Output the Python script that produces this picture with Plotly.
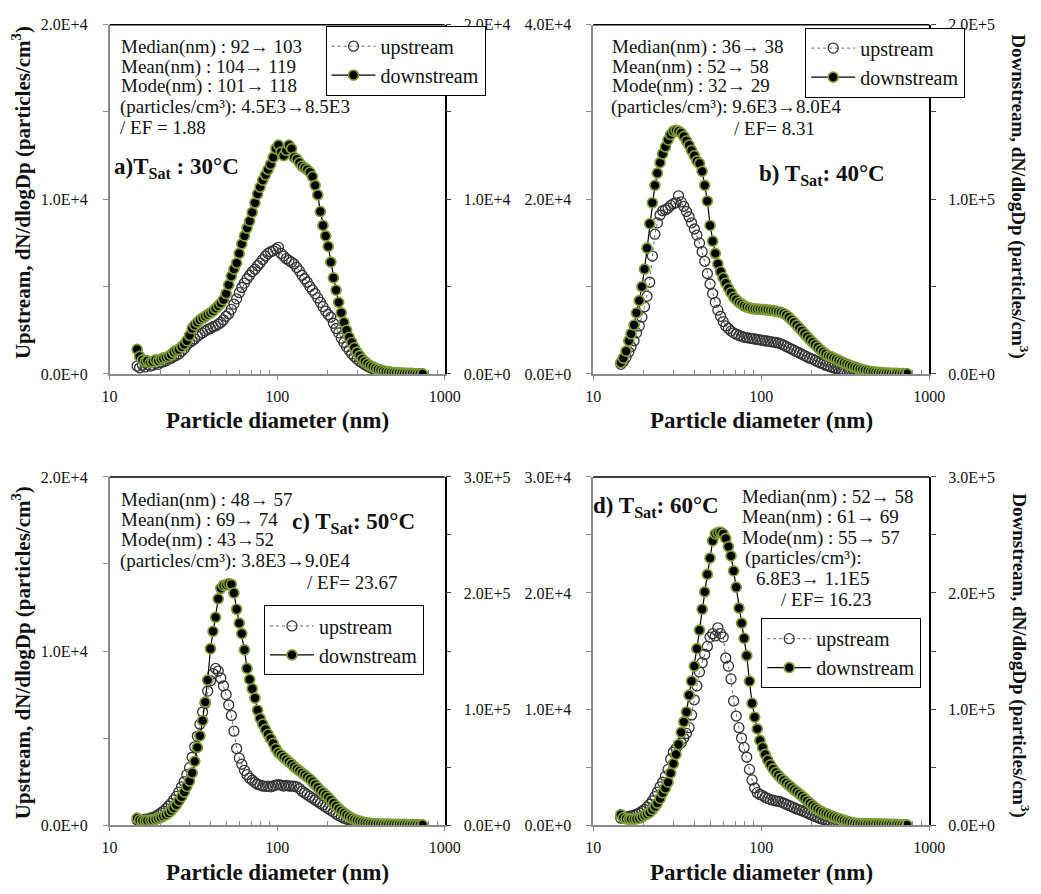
import plotly.graph_objects as go

# ---------------- data ----------------
Dp = [
    14.6, 15.1, 15.7, 16.3, 16.8, 17.5, 18.1, 18.8, 19.5, 20.2,
    20.9, 21.7, 22.5, 23.3, 24.1, 25.0, 25.9, 26.9, 27.9, 28.9,
    30.0, 31.1, 32.2, 33.4, 34.6, 35.9, 37.2, 38.5, 40.0, 41.4,
    42.9, 44.5, 46.1, 47.8, 49.6, 51.4, 53.3, 55.2, 57.3, 59.4,
    61.5, 63.8, 66.1, 68.5, 71.0, 73.7, 76.4, 79.1, 82.0, 85.1,
    88.2, 91.4, 94.7, 98.2, 101.8, 105.5, 109.4, 113.4, 117.6, 121.9,
    126.3, 131.0, 135.8, 140.7, 145.9, 151.2, 156.8, 162.5, 168.5, 174.7,
    181.1, 187.7, 194.6, 201.7, 209.1, 216.7, 224.7, 232.9, 241.4, 250.3,
    259.5, 269.0, 278.8, 289.0, 299.6, 310.6, 322.0, 333.8, 346.0, 358.7,
    371.8, 385.4, 399.5, 414.2, 429.4, 445.1, 461.4, 478.3, 495.8, 514.0,
    532.8, 552.3, 572.5, 593.5, 615.3, 637.8, 661.2, 685.4, 710.5, 736.5,
]

a_up = [
    450, 350, 500, 400, 550, 450, 500, 600, 550, 650,
    700, 750, 850, 900, 1000, 1050, 1150, 1300, 1450, 1650,
    1800, 1900, 2000, 2150, 2250, 2350, 2450, 2550, 2600, 2700,
    2750, 2850, 2950, 3100, 3300, 3450, 3700, 4000, 4300, 4650,
    4950, 5200, 5450, 5650, 5850, 6000, 6200, 6350, 6550, 6750,
    6900, 7000, 7050, 7150, 7250, 6900, 6750, 6600, 6500, 6400,
    6300, 6100, 5900, 5650, 5450, 5250, 5000, 4800, 4600, 4350,
    4100, 3850, 3600, 3400, 3250, 2900, 2600, 2350, 2050, 1800,
    1550, 1350, 1150, 1000, 850, 720, 620, 520, 440, 370,
    300, 250, 200, 160, 130, 100, 80, 60, 50, 40,
    30, 25, 20, 15, 12, 10, 8, 6, 5, 4,
]
a_down = [
    1400, 1000, 800, 700, 750, 650, 700, 800, 750, 850,
    900, 950, 1000, 1100, 1250, 1350, 1400, 1550, 1700, 1900,
    2200, 2600, 2800, 2950, 3100, 3200, 3300, 3400, 3500, 3600,
    3750, 3900, 4050, 4250, 4600, 5100, 5600, 6000, 6350, 6900,
    7450, 7900, 8350, 8750, 9250, 9800, 10300, 10700, 11100, 11400,
    11700, 12000, 12400, 12900, 13100, 12700, 12500, 12800, 13100, 12900,
    12400, 12300, 12100, 11900, 11800, 11700, 11550, 11300, 10800, 10250,
    9300, 8500, 7900, 7300, 6400, 5500, 4800, 4100, 3500, 2950,
    2500, 2100, 1800, 1500, 1250, 1050, 850, 700, 580, 480,
    400, 330, 270, 220, 180, 150, 120, 100, 80, 70,
    60, 50, 40, 35, 30, 25, 20, 15, 10, 5,
]

b_up = [
    1100, 1400, 1900, 2500, 3100, 3800, 4700, 5500, 6500, 7700,
    8900, 10500, 13500, 16000, 17300, 18200, 18700, 18800, 19000, 19300,
    19500, 19600, 20400, 19700, 19200, 18600, 18000, 17300, 16600, 15900,
    15000, 14000, 12900, 11500, 10300, 9200, 8200, 7300, 6600, 6000,
    5500, 5200, 4900, 4700, 4550, 4400, 4300, 4200, 4150, 4100,
    4050, 4000, 3950, 3900, 3850, 3800, 3750, 3700, 3650, 3600,
    3550, 3450, 3300, 3150, 3000, 2850, 2700, 2550, 2400, 2250,
    2100, 1950, 1800, 1700, 1550, 1400, 1250, 1150, 1000, 900,
    800, 700, 620, 550, 480, 420, 370, 320, 280, 240,
    200, 170, 140, 120, 100, 80, 65, 50, 40, 30,
    25, 20, 15, 12, 10, 8, 6, 5, 4, 3,
]
b_down = [
    6500, 9000, 13000, 19000, 23000, 28000, 35000, 42000, 50000, 60000,
    72000, 86000, 98000, 108000, 115000, 121000, 126000, 130000, 134000, 137000,
    139000, 139500, 139000, 138000, 136000, 133500, 131000, 128000, 125000, 122000,
    120500, 116000, 108000, 99000, 85000, 76000, 69000, 63000, 58500, 55000,
    52000, 49000, 46500, 44000, 42500, 41000, 40000, 39000, 38300, 37800,
    37400, 37200, 37100, 37000, 36900, 36800, 36600, 36400, 36200, 36000,
    35600, 35200, 34600, 33700, 32500, 31000, 29500, 27900, 26300, 24700,
    23000, 21300, 19700, 18200, 16700, 15300, 13900, 12600, 11400, 10300,
    9900, 9200, 8500, 7700, 7000, 6300, 5700, 5100, 4500, 3900,
    3400, 2900, 2500, 2100, 1800, 1500, 1250, 1050, 900, 750,
    620, 520, 430, 360, 300, 250, 200, 160, 120, 100,
]

c_up = [
    300, 200, 250, 350, 300, 400, 450, 500, 600, 700,
    800, 950, 1100, 1250, 1450, 1650, 1900, 2200, 2500, 2900,
    3300, 3900, 4500, 5100, 5800, 6500, 7000, 7700, 8300, 8700,
    9000, 8850, 8450, 8000, 7500, 6900, 6300, 5400, 4400, 3850,
    3500, 3150, 2900, 2700, 2580, 2450, 2350, 2300, 2250, 2230,
    2240, 2200, 2250, 2300, 2330, 2300, 2250, 2280, 2250, 2240,
    2240, 2200, 2100, 1950, 1850, 1750, 1650, 1550, 1450, 1350,
    1250, 1150, 1050, 950, 850, 750, 650, 560, 480, 400,
    350, 290, 240, 190, 150, 120, 100, 80, 60, 50,
    40, 30, 25, 20, 15, 12, 10, 8, 6, 5,
    4, 3, 3, 2, 2, 2, 1, 1, 1, 1,
]
c_down = [
    6000, 4500, 4000, 3800, 4000, 4200, 4500, 5000, 5800, 6700,
    7800, 9000, 10500, 12500, 15000, 17500, 21000, 24500, 28500, 33500,
    38000, 45000, 55000, 67000, 77000, 90000, 106000, 125000, 152000, 167000,
    179000, 195000, 204000, 206500, 207000, 208000, 207500, 200000, 186000, 174000,
    165000, 151000, 135000, 125500, 117500, 109500, 99000, 92000, 87000, 82500,
    78300, 74500, 70500, 66000, 62500, 60500, 58500, 56500, 54500, 52500,
    50300, 48500, 46700, 45000, 43300, 41500, 39600, 37400, 35000, 32500,
    30000, 28000, 26000, 24000, 21500, 19000, 16500, 14200, 12300, 10500,
    8800, 7300, 6000, 5000, 4100, 3400, 2800, 2300, 1900, 1600,
    1400, 1200, 1100, 1000, 950, 900, 850, 800, 800, 750,
    700, 650, 600, 550, 500, 450, 400, 350, 300, 250,
]

d_up = [
    600, 650, 700, 750, 800, 850, 950, 1050, 1200, 1350,
    1550, 1800, 2100, 2450, 2850, 3300, 3700, 4200, 4800, 5700,
    6300, 6600, 6900, 7100, 7500, 7900, 8400, 9500, 10800, 12000,
    13200, 14000, 14700, 15400, 16200, 16500, 16300, 17000, 16500, 16200,
    14400, 13700, 12600, 10700, 9400, 8400, 7500, 6700, 5850, 4800,
    3900, 3200, 2800, 2650, 2550, 2400, 2300, 2200, 2150, 2100,
    2050, 2000, 1900, 1800, 1700, 1600, 1500, 1400, 1320, 1240,
    1150, 1050, 950, 850, 750, 650, 570, 500, 430, 370,
    310, 260, 210, 170, 140, 110, 90, 70, 55, 45,
    35, 28, 22, 18, 14, 11, 9, 7, 5, 4,
    3, 3, 2, 2, 2, 1, 1, 1, 1, 1,
]
d_down = [
    9000, 6500, 5500, 5200, 5300, 5300, 5500, 6000, 7000, 8500,
    9500, 11000, 13500, 16000, 19000, 23000, 27900, 32000, 37000, 44800,
    53000, 61000, 69500, 80000, 89000, 97500, 112000, 124000, 137000, 152000,
    168000, 186000, 201000, 216000, 230000, 245000, 251000, 252000, 252500, 251000,
    247000, 240000, 232000, 219000, 205000, 187000, 174000, 161000, 146000, 124000,
    105000, 93000, 83000, 73000, 67000, 61000, 56000, 52000, 48500, 45500,
    43000, 40500, 38500, 36500, 34500, 32500, 30500, 28800, 27000, 25000,
    23000, 21000, 19000, 17000, 15200, 13600, 12200, 11000, 10000, 9200,
    8200, 7300, 6400, 5600, 4900, 4200, 3500, 2900, 2300, 1800,
    1400, 1200, 1100, 1100, 1100, 1100, 1100, 1100, 1050, 1000,
    950, 900, 850, 800, 700, 600, 500, 400, 300, 200,
]

x_tickvals = [10, 100, 1000]
x_ticktext = ["10", "100", "1000"]
x_minor = [20, 30, 40, 50, 60, 70, 80, 90, 200, 300, 400, 500, 600, 700, 800, 900]

# labelled ticks and the unlabelled half-way ticks of each value axis
left_ticks = {
    "a": ([0, 10000, 20000], ["0.0E+0", "1.0E+4", "2.0E+4"], [5000, 15000]),
    "b": ([0, 20000, 40000], ["0.0E+0", "2.0E+4", "4.0E+4"], [10000, 30000]),
    "c": ([0, 10000, 20000], ["0.0E+0", "1.0E+4", "2.0E+4"], [5000, 15000]),
    "d": ([0, 10000, 20000, 30000], ["0.0E+0", "1.0E+4", "2.0E+4", "3.0E+4"],
          [5000, 15000, 25000]),
}
right_ticks = {
    "a": ([0, 10000, 20000], ["0.0E+0", "1.0E+4", "2.0E+4"], [5000, 15000]),
    "b": ([0, 100000, 200000], ["0.0E+0", "1.0E+5", "2.0E+5"], [50000, 150000]),
    "c": ([0, 100000, 200000, 300000], ["0.0E+0", "1.0E+5", "2.0E+5", "3.0E+5"],
          [50000, 150000, 250000]),
    "d": ([0, 100000, 200000, 300000], ["0.0E+0", "1.0E+5", "2.0E+5", "3.0E+5"],
          [50000, 150000, 250000]),
}

# ---------------- layout helpers ----------------
W, H = 1041, 894
FONT = "Liberation Serif, Times New Roman, serif"
GRAY = "#8a8a8a"
GREEN = "#7f9e38"


def fx(p):
    return p / W


def fy(p):
    return 1 - p / H


XD_L = [fx(104), fx(447)]
XD_R = [fx(599), fx(943)]
YD_T = [fy(373), fy(17)]
YD_B = [fy(833), fy(478)]

panels = [
    dict(key="a", xd=XD_L, yd=YD_T, up=a_up, down=a_down, legxy=(325, 18)),
    dict(key="b", xd=XD_R, yd=YD_T, up=b_up, down=b_down, legxy=(816, 20)),
    dict(key="c", xd=XD_L, yd=YD_B, up=c_up, down=c_down, legxy=(262, 609)),
    dict(key="d", xd=XD_R, yd=YD_B, up=d_up, down=d_down, legxy=(771, 622)),
]

fig = go.Figure()
layout = dict(
    width=W, height=H, margin=dict(l=0, r=0, t=0, b=0),
    paper_bgcolor="white", plot_bgcolor="white",
    font=dict(family=FONT, color="#111", size=16),
    annotations=[], shapes=[],
)

for i, p in enumerate(panels):
    xi = i + 1
    yl = 2 * i + 1
    yr = 2 * i + 2
    xname = "x" if xi == 1 else f"x{xi}"
    ylname = "y" if yl == 1 else f"y{yl}"
    yrname = f"y{yr}"
    legname = "legend" if i == 0 else f"legend{i + 1}"

    fig.add_trace(go.Scatter(
        x=Dp, y=p["up"], xaxis=xname, yaxis=ylname, name="upstream",
        mode="lines+markers", legend=legname,
        line=dict(color="#666", width=1, dash="dot"),
        marker=dict(symbol="circle-open", size=10, color="#333", line=dict(width=1.3)),
    ))
    fig.add_trace(go.Scatter(
        x=Dp, y=p["down"], xaxis=xname, yaxis=yrname, name="downstream",
        mode="lines+markers", legend=legname,
        line=dict(color="black", width=1.2),
        marker=dict(symbol="circle", size=10, color="black", line=dict(width=1.7, color=GREEN)),
    ))

    lt_vals, lt_text, lt_minor = left_ticks[p["key"]]
    rt_vals, rt_text, rt_minor = right_ticks[p["key"]]

    layout["xaxis" if xi == 1 else f"xaxis{xi}"] = dict(
        domain=p["xd"], anchor=ylname, type="log", range=[1, 3],
        tickvals=x_tickvals, ticktext=x_ticktext,
        ticks="outside", ticklen=4, tickcolor=GRAY, tickwidth=1,
        minor=dict(tickmode="array", tickvals=x_minor, ticks="inside", ticklen=4,
                   tickcolor=GRAY, tickwidth=1, showgrid=False),
        showline=True, linecolor=GRAY, linewidth=1.5, showgrid=False, zeroline=False,
        tickfont=dict(family=FONT, size=16, color="#111"), ticklabelstandoff=3,
    )
    layout["yaxis" if yl == 1 else f"yaxis{yl}"] = dict(
        domain=p["yd"], anchor=xname, range=[0, lt_vals[-1]],
        tickmode="array", tickvals=lt_vals, ticktext=lt_text,
        ticks="outside", ticklen=5, tickcolor=GRAY,
        minor=dict(tickmode="array", tickvals=lt_minor, ticks="outside", ticklen=5,
                   tickcolor=GRAY, showgrid=False),
        showline=True, linecolor=GRAY, linewidth=1.5, showgrid=False, zeroline=False,
        tickfont=dict(family=FONT, size=16, color="#111"), ticklabelstandoff=12,
    )
    layout[f"yaxis{yr}"] = dict(
        overlaying=ylname, anchor=xname, side="right", range=[0, rt_vals[-1]],
        tickmode="array", tickvals=rt_vals, ticktext=rt_text,
        ticks="outside", ticklen=5, tickcolor="#444",
        minor=dict(tickmode="array", tickvals=rt_minor, ticks="outside", ticklen=5,
                   tickcolor="#444", showgrid=False),
        showline=True, linecolor="black", linewidth=1.5, showgrid=False, zeroline=False,
        tickfont=dict(family=FONT, size=16, color="#111"), ticklabelstandoff=9,
    )
    # top border of the plot area
    layout["shapes"].append(dict(
        type="line", xref="paper", yref="paper",
        x0=p["xd"][0], x1=p["xd"][1], y0=p["yd"][1], y1=p["yd"][1],
        line=dict(color="black", width=1.5),
    ))
    lx, ly = p["legxy"]
    layout[legname] = dict(
        x=fx(lx), y=fy(ly), xanchor="left", yanchor="top",
        bordercolor="black", borderwidth=1, bgcolor="white",
        font=dict(family=FONT, size=20, color="#111"),
        itemwidth=44, tracegroupgap=0,
    )


def ann(text, x, y, size=19, bold=False, xanchor="left", angle=0):
    t = f"<b>{text}</b>" if bold else text
    layout["annotations"].append(dict(
        text=t, x=fx(x), y=fy(y), xref="paper", yref="paper",
        xanchor=xanchor, yanchor="middle", showarrow=False, textangle=angle,
        font=dict(family=FONT, size=size, color="#111"),
    ))


# panel a text
ann("Median(nm) : 92→ 103", 114, 40)
ann("Mean(nm) : 104→ 119", 114, 60)
ann("Mode(nm) : 101→ 118", 114, 80)
ann("(particles/cm³): 4.5E3→8.5E3", 113, 101)
ann("/ EF = 1.88", 113, 122)
ann("a)T<sub>Sat</sub> : 30°C", 106, 163, size=23, bold=True)
# panel b text
ann("Median(nm) : 36→ 38", 616, 40)
ann("Mean(nm) : 52→ 58", 616, 60)
ann("Mode(nm) : 32→ 29", 616, 80)
ann("(particles/cm³): 9.6E3→8.0E4", 615, 101)
ann("/ EF= 8.31", 741, 123)
ann("b) T<sub>Sat</sub>: 40°C", 767, 170, size=23, bold=True)
# panel c text
ann("Median(nm) : 48→ 57", 114, 502)
ann("Mean(nm) : 69→ 74", 114, 522)
ann("Mode(nm) : 43→52", 114, 542)
ann("(particles/cm³): 3.8E3→9.0E4", 113, 564)
ann("/ EF= 23.67", 304, 586)
ann("c) T<sub>Sat</sub>: 50°C", 289, 525, size=23, bold=True)
# panel d text
ann("d) T<sub>Sat</sub>: 60°C", 597, 509, size=23, bold=True)
ann("Median(nm) : 52→ 58", 749, 498)
ann("Mean(nm) : 61→ 69", 749, 519)
ann("Mode(nm) : 55→ 57", 749, 540)
ann("(particles/cm³):", 752, 561)
ann("6.8E3→ 1.1E5", 764, 582)
ann("/ EF= 16.23", 789, 603)

# axis titles
ann("Particle diameter (nm)", 276, 421, size=23, bold=True, xanchor="center")
ann("Particle diameter (nm)", 771, 421, size=23, bold=True, xanchor="center")
ann("Particle diameter (nm)", 276, 881, size=23, bold=True, xanchor="center")
ann("Particle diameter (nm)", 771, 881, size=23, bold=True, xanchor="center")
ann("Upstream, dN/dlogDp (particles/cm<sup>3</sup>)", 14, 188, size=21, bold=True,
    xanchor="center", angle=-90)
ann("Upstream, dN/dlogDp (particles/cm<sup>3</sup>)", 14, 657, size=21, bold=True,
    xanchor="center", angle=-90)
ann("Downstream, dN/dlogDp (particles/cm<sup>3</sup>)", 1036, 192, size=19, bold=True,
    xanchor="center", angle=90)
ann("Downstream, dN/dlogDp (particles/cm<sup>3</sup>)", 1036, 660, size=19, bold=True,
    xanchor="center", angle=90)

fig.update_layout(**layout)
fig.write_html("out.html", config={"displayModeBar": False},
               post_script="document.body.style.margin='0';")
